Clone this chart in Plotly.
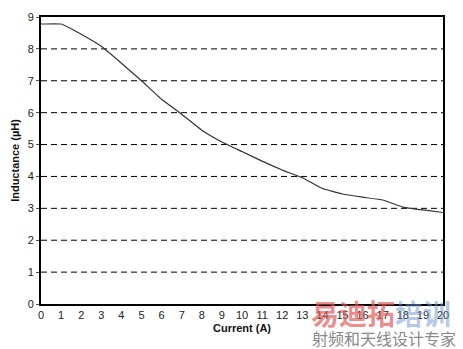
import plotly.graph_objects as go

current = [0, 1, 2, 3, 4, 5, 6, 7, 8, 9, 10, 11, 12, 13, 14, 15, 16, 17, 18, 19, 20]
inductance = [8.78, 8.78, 8.46, 8.08, 7.55, 7.0, 6.42, 5.95, 5.45, 5.08, 4.78,
              4.48, 4.2, 3.96, 3.62, 3.45, 3.35, 3.26, 3.04, 2.95, 2.87]
x_ticks = list(range(0, 21))
y_ticks = list(range(0, 10))
grid_levels = [1, 2, 3, 4, 5, 6, 7, 8]

fig = go.Figure()
fig.add_trace(go.Scatter(x=current, y=inductance, mode="lines",
                         line=dict(color="#333333", width=1.2, shape="spline", smoothing=0.3),
                         showlegend=False, hoverinfo="skip"))

for g in grid_levels:
    fig.add_shape(type="line", xref="paper", x0=0, x1=1, yref="y", y0=g, y1=g,
                  line=dict(color="black", width=1, dash="6px,4px"), layer="below")

fig.update_layout(
    width=463, height=349,
    margin=dict(l=41, r=20, t=17, b=45),
    paper_bgcolor="white", plot_bgcolor="white",
    font=dict(family="Arial, Liberation Sans, sans-serif", size=11, color="#222222"),
    xaxis=dict(range=[0, 20], tickvals=x_ticks, showgrid=False, zeroline=False,
               showline=True, linecolor="black", linewidth=2, mirror=True,
               ticks="", ticklen=0,
               title=dict(text="<b>Current (A)</b>", font=dict(size=11, color="#111111"), standoff=4)),
    yaxis=dict(range=[0, 9], tickvals=y_ticks, showgrid=False, zeroline=False,
               showline=True, linecolor="black", linewidth=2, mirror=True,
               ticks="outside", ticklen=3, tickcolor="#555555",
               title=dict(text="<b>Inductance (µH)</b>", font=dict(size=11, color="#111111"), standoff=6)),
    annotations=[
        dict(text="<b>易迪拓</b><b><span style='color:rgba(110,150,205,0.75)'>培训</span></b>",
             xref="paper", yref="paper", x=0.845, y=-0.031, xanchor="center", yanchor="middle",
             showarrow=False, font=dict(family="Noto Sans CJK SC", size=28, color="rgba(225,90,90,0.7)")),
        dict(text="射频和天线设计专家", xref="paper", yref="paper", x=0.853, y=-0.12,
             xanchor="center", yanchor="middle", showarrow=False,
             font=dict(family="Noto Sans CJK SC", size=16, color="#8a8a8a")),
    ],
)

fig.write_html("out.html")
